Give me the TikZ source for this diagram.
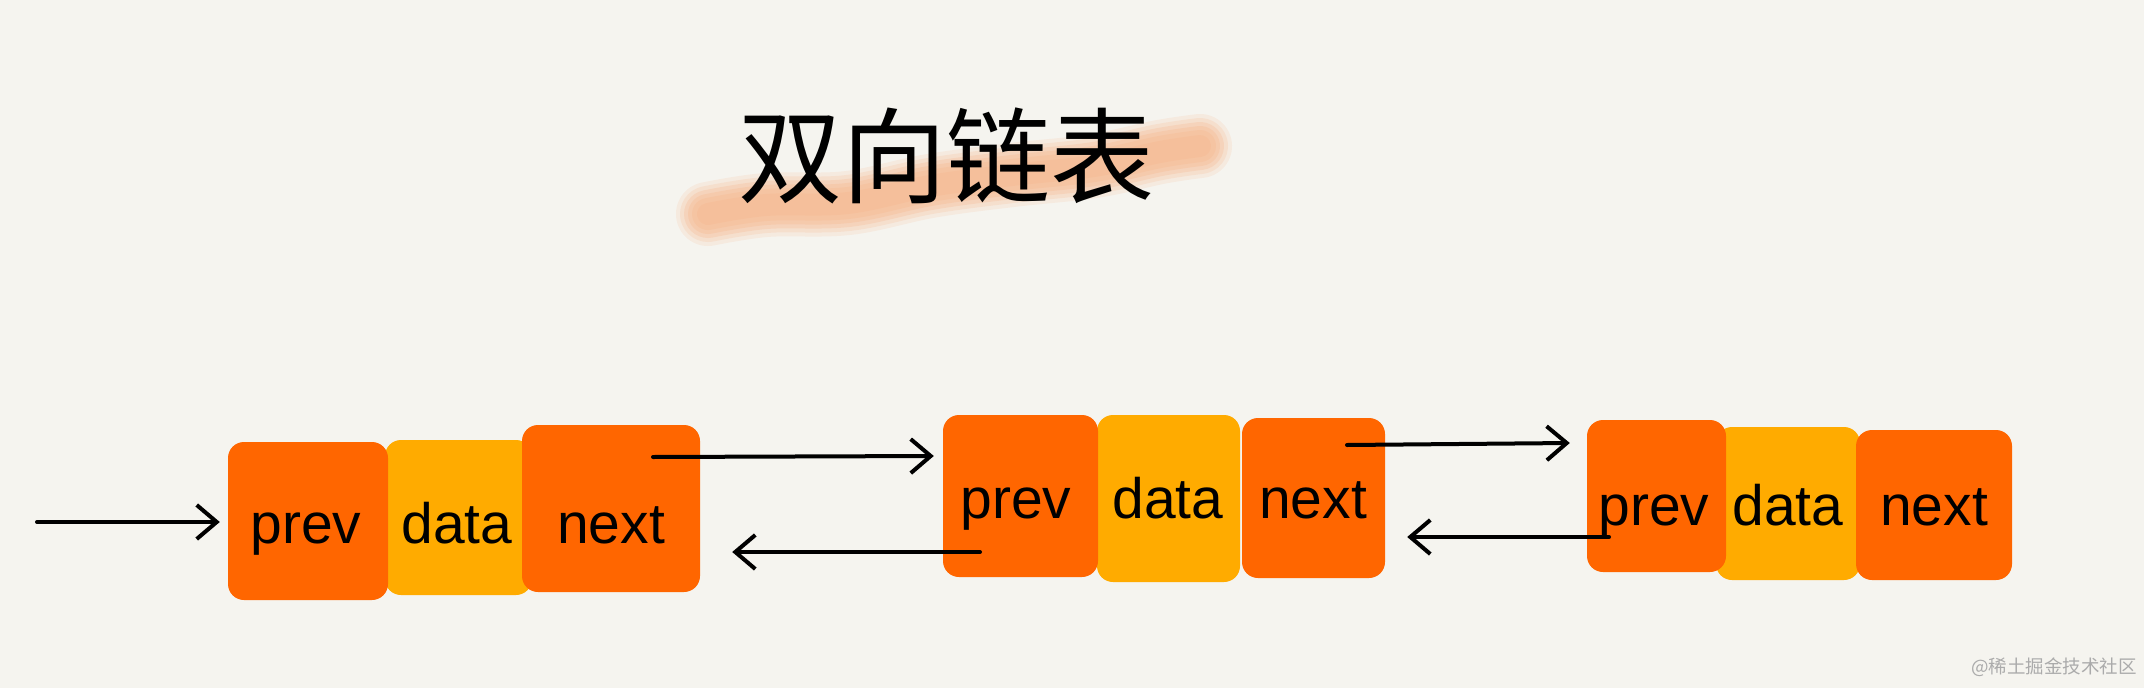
\documentclass[tikz,border=0pt]{standalone}
\usepackage{fontspec}
\setmainfont{Liberation Sans}
\newfontfamily\cjk{Noto Sans CJK SC}
\usetikzlibrary{arrows.meta}
\definecolor{bg}{HTML}{F5F4EF}
\definecolor{org}{HTML}{FF6600}
\definecolor{yel}{HTML}{FFAB00}
\definecolor{brushB}{HTML}{F6A26C}
\definecolor{wm}{HTML}{ABABAB}
\tikzset{
  cell/.style={inner sep=0pt, rounded corners=16pt},
  ocell/.style={cell, fill=org},
  ycell/.style={cell, fill=yel},
  lbl/.style={inner sep=0pt, anchor=base, font=\fontsize{57}{57}\selectfont, text=black},
  arr/.style={line width=4pt, line cap=round, -{Straight Barb[length=20pt,width=34pt]}},
  brush/.style={line cap=round, line join=round, brushB}
}
\begin{document}
\begin{tikzpicture}[x=1pt,y=-1pt]
\fill[bg] (0,0) rectangle (2144,688);
\useasboundingbox (0,0) rectangle (2144,688);

% brush stroke under title (soft layered)
\foreach \w/\o in {64/0.12, 56/0.15, 48/0.18, 40/0.18, 32/0.15, 22/0.12} {
  \draw[brush, opacity=\o, line width=\w pt] plot[smooth, tension=0.6] coordinates {(708,214) (766,205) (848,203) (930,186) (1012,175) (1094,166) (1160,152) (1200,146)};
}

\node[inner sep=0pt, font=\cjk\fontsize{104}{104}\selectfont] (title) at (946,156) {双向链表};

% block 1
\node[ycell, minimum width=147pt, minimum height=155pt] (d1) at (458.5,517.5) {};
\node[ocell, minimum width=160pt, minimum height=158pt] (p1) at (308,521) {};
\node[ocell, minimum width=178pt, minimum height=167pt] (n1) at (611,508.5) {};
% block 2
\node[ycell, minimum width=143pt, minimum height=167pt] (d2) at (1168.5,498.5) {};
\node[ocell, minimum width=155pt, minimum height=162pt] (p2) at (1020.5,496) {};
\node[ocell, minimum width=143pt, minimum height=160pt] (n2) at (1313.5,498) {};
% block 3
\node[ycell, minimum width=144pt, minimum height=153pt] (d3) at (1788,503.5) {};
\node[ocell, minimum width=139pt, minimum height=152pt] (p3) at (1656.5,496) {};
\node[ocell, minimum width=156pt, minimum height=150pt] (n3) at (1934,505) {};

% labels
\node[lbl] (lp1) at (306,543) {prev};
\node[lbl] (ld1) at (457,543) {data};
\node[lbl] (ln1) at (611,543) {next};
\node[lbl] (lp2) at (1016,518) {prev};
\node[lbl] (ld2) at (1168,518) {data};
\node[lbl] (ln2) at (1313,518) {next};
\node[lbl] (lp3) at (1654,525) {prev};
\node[lbl] (ld3) at (1788,525) {data};
\node[lbl] (ln3) at (1934,525) {next};

% arrows
\coordinate (head) at (37,522);
\draw[arr] (head) -- ([shift={(-8,1)}]p1.west);
\draw[arr] ([shift={(42,-51.5)}]n1.center) -- ([shift={(-9,-40)}]p2.west);
\draw[arr] ([shift={(-40.5,56)}]p2.center) -- ([shift={(32,43.5)}]n1.east);
\draw[arr] ([shift={(33.5,-53)}]n2.center) -- ([shift={(-17,-53)}]p3.west);
\draw[arr] ([shift={(-47.5,41)}]p3.center) -- ([shift={(22,39)}]n2.east);

% watermark
\node[inner sep=0pt, anchor=east, text=wm, font=\cjk\fontsize{18.5}{18.5}\selectfont] (wmk) at (2137,667) {@稀土掘金技术社区};
\end{tikzpicture}
\end{document}
